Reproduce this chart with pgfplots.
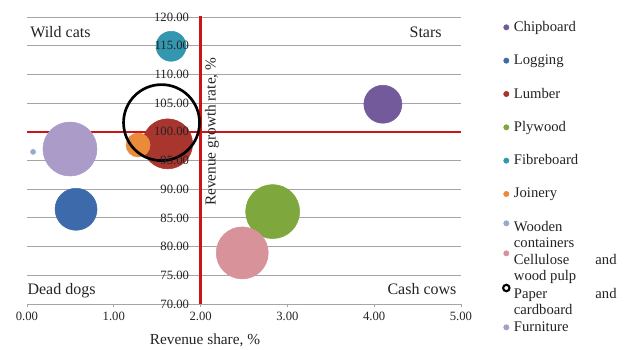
\documentclass[border=0pt]{standalone}
\usepackage{fontspec}
\setmainfont{Liberation Serif}
\usepackage{pgfplots}
\pgfplotsset{compat=1.18}
\hyphenpenalty=10000
\exhyphenpenalty=10000
\definecolor{cChip}{RGB}{114,90,155}
\definecolor{cLog}{RGB}{60,106,171}
\definecolor{cLum}{RGB}{168,53,46}
\definecolor{cPly}{RGB}{126,168,62}
\definecolor{cFib}{RGB}{52,151,176}
\definecolor{cJoi}{RGB}{233,139,58}
\definecolor{cWoo}{RGB}{150,170,205}
\definecolor{cCel}{RGB}{215,146,154}
\definecolor{cFur}{RGB}{170,155,200}
\definecolor{cRed}{RGB}{204,20,20}
\definecolor{cGrid}{RGB}{165,165,165}
\definecolor{cTxt}{RGB}{35,35,35}
\pgfplotsset{
  layers/mylayers/.define layer set={axis background, axis grid, axis ticks, axis lines, pre main, main, axis tick labels, axis descriptions, axis foreground}{/pgfplots/layers/standard},
  bub/.style 2 args={only marks, mark=*, color=#1, mark size=#2,
    legend image code/.code={\fill (0pt,0pt) circle (2pt);}},
  bubup/.style n args={3}{only marks, mark=*, color=#1, mark size=#2,
    legend image code/.code={\fill (0pt,#3) circle (2pt);}},
}
\begin{document}
\begin{tikzpicture}
\begin{axis}[
  set layers=mylayers,
  scale only axis, width=325.5pt, height=215.25pt,
  xmin=0, xmax=5, ymin=70, ymax=120,
  xtick={0,1,2,3,4,5}, ytick={70,75,80,85,90,95,100,105,110,115,120},
  axis x line*=bottom, axis y line*=left,
  y axis line style={draw=none},
  x axis line style={cGrid, line width=0.6pt},
  ytick style={draw=none},
  xtick style={cGrid, line width=0.6pt},
  tick align=outside, major tick length=2.5pt,
  ymajorgrids, grid style={cGrid, line width=0.6pt},
  /pgf/number format/assume math mode=true,
  xticklabel style={/pgf/number format/fixed, /pgf/number format/fixed zerofill, /pgf/number format/precision=2},
  yticklabel style={/pgf/number format/fixed, /pgf/number format/fixed zerofill, /pgf/number format/precision=2, xshift=127.5pt},
  tick label style={font=\fontsize{9.5}{11}\selectfont, text=cTxt},
  xlabel={Revenue share, \%},
  xlabel style={at={(axis description cs:0.41,0)}, anchor=north, yshift=-19pt, font=\fontsize{11.5}{13}\selectfont, text=cTxt},
  ylabel={Revenue growth rate, \%},
  ylabel style={at={(axis description cs:0.4,0.6)}, anchor=north, inner sep=3pt, font=\fontsize{11.5}{13}\selectfont, text=cTxt},
  legend style={at={(1.094,1.023)}, anchor=north west, draw=none, fill=none, inner sep=0pt, row sep=0pt,
    nodes={text width=77pt, align=justify, minimum height=25pt, inner xsep=2.5pt, inner ysep=0pt, font=\fontsize{11}{12}\selectfont, text=cTxt}},
  legend cell align=left,
]
\addplot[bub={cChip}{14.25pt}] coordinates {(4.10,104.8)};
\addlegendentry{Chipboard}
\addplot[bub={cLog}{15.75pt}] coordinates {(0.565,86.5)};
\addlegendentry{Logging}
\addplot[bub={cLum}{18.75pt}] coordinates {(1.62,97.9)};
\addlegendentry{Lumber}
\addplot[bub={cPly}{20.25pt}] coordinates {(2.83,86.1)};
\addlegendentry{Plywood}
\addplot[bub={cFib}{11.25pt}] coordinates {(1.66,114.9)};
\addlegendentry{Fibreboard}
\addplot[bub={cJoi}{9pt}] coordinates {(1.28,97.7)};
\addlegendentry{Joinery}
\addplot[bubup={cWoo}{1.9pt}{3pt}] coordinates {(0.07,96.5)};
\addlegendentry{Wooden containers}
\addplot[bubup={cCel}{19.5pt}{5.5pt}] coordinates {(2.48,78.9)};
\addlegendentry{Cellulose and wood pulp}
\addplot[only marks, mark=o, black, mark size=28.5pt, mark options={line width=2pt},
  legend image code/.code={\draw[line width=1.6pt] (0pt,4.5pt) circle (2.4pt);}] coordinates {(1.55,101.6)};
\addlegendentry{Paper and cardboard}
\addplot[bub={cFur}{20.25pt}] coordinates {(0.495,97.0)};
\addlegendentry{Furniture}
\addplot[cRed, line width=1.7pt, forget plot] coordinates {(0,100) (5,100)};
\addplot[cRed, line width=1.7pt, forget plot] coordinates {(2,70) (2,120.4)};
\node[anchor=base west, inner sep=0pt, font=\fontsize{12}{14}\selectfont, text=cTxt] at (axis cs:0.035,116.46) {Wild cats};
\node[anchor=base east, inner sep=0pt, font=\fontsize{12}{14}\selectfont, text=cTxt] at (axis cs:4.78,116.46) {Stars};
\node[anchor=base west, inner sep=0pt, font=\fontsize{12}{14}\selectfont, text=cTxt] at (axis cs:0.003,71.74) {Dead dogs};
\node[anchor=base east, inner sep=0pt, font=\fontsize{12}{14}\selectfont, text=cTxt] at (axis cs:4.95,71.74) {Cash cows};
\end{axis}
\pgfresetboundingbox
\useasboundingbox (-20.25pt,-33.75pt) rectangle (452.25pt,228pt);
\end{tikzpicture}
\end{document}
